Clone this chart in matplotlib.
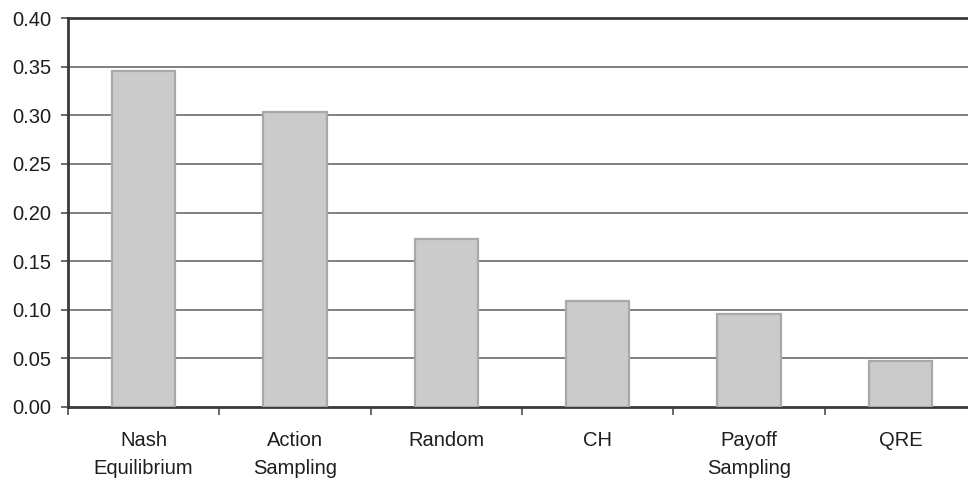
import matplotlib
matplotlib.use("Agg")
import matplotlib.pyplot as plt
import numpy as np

categories = ["Nash\nEquilibrium", "Action\nSampling", "Random", "CH", "Payoff\nSampling", "QRE"]
values = [0.345, 0.303, 0.173, 0.109, 0.096, 0.047]
yticks = [0.00, 0.05, 0.10, 0.15, 0.20, 0.25, 0.30, 0.35, 0.40]

plt.rcParams["font.family"] = ["Liberation Sans", "DejaVu Sans"]

fig = plt.figure(figsize=(9.68, 4.83), dpi=100)
ax = fig.add_axes([68 / 968, 76 / 483, 908 / 968, 389 / 483])

x = np.arange(len(categories))
ax.bar(x, values, width=0.42, color="#cbcbcb", edgecolor="#a9a9a9",
       linewidth=1.6, zorder=3)

ax.set_xlim(-0.5, len(categories) - 0.5)
ax.set_ylim(0, 0.40)

# horizontal gridlines behind the bars
for v in yticks[1:-1]:
    ax.axhline(v, color="#808080", linewidth=1.4, zorder=1)

ax.set_yticks(yticks)
ax.set_yticklabels([f"{v:.2f}" for v in yticks])
ax.tick_params(axis="y", length=5, width=1.4, color="#6a6a6a", pad=7,
               labelsize=14.5, labelcolor="#1e1e1e")

# category labels at bar centres, tick marks at category boundaries
ax.set_xticks(x)
ax.set_xticklabels(categories, linespacing=1.6)
ax.tick_params(axis="x", which="major", length=0, pad=17,
               labelsize=14.5, labelcolor="#1e1e1e")
ax.set_xticks(np.arange(-0.5, len(categories) + 0.5, 1.0), minor=True)
ax.tick_params(axis="x", which="minor", length=6, width=1.4, color="#6a6a6a")

for side in ["left", "bottom", "top"]:
    ax.spines[side].set_color("#3a3a3a")
    ax.spines[side].set_linewidth(2.0)
ax.spines["right"].set_visible(False)

fig.savefig("out.png", dpi=100)
